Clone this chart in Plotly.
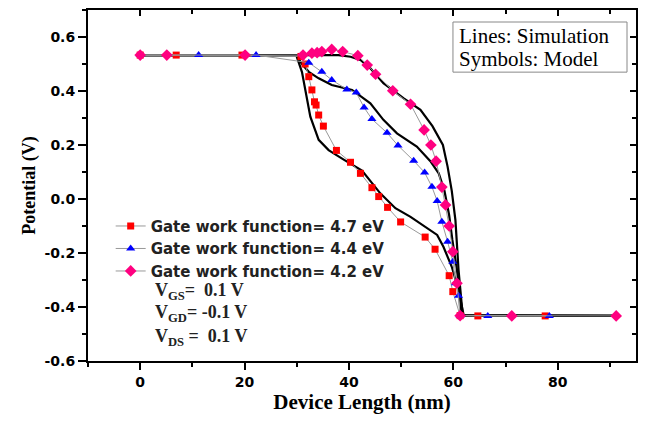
import plotly.graph_objects as go

# ---------------- data ----------------
# Simulation (black lines)
sim47_x = [0, 29.9, 31.0, 31.6, 32.6, 34.2, 36.1, 39.0, 42.5, 46.0, 48.9, 51.8, 55.0, 56.9, 58.1, 59.7, 61.0, 62.0, 91.2]
sim47_y = [0.533, 0.533, 0.47, 0.404, 0.305, 0.219, 0.181, 0.146, 0.105, 0.021, -0.034, -0.066, -0.109, -0.133, -0.177, -0.251, -0.337, -0.432, -0.433]

sim44_x = [0, 29.9, 31.0, 32.3, 34.2, 36.7, 40.6, 41.5, 44.1, 46.6, 49.2, 53.0, 55.6, 57.2, 58.3, 59.2, 59.8, 60.7, 61.6, 91.2]
sim44_y = [0.533, 0.533, 0.50, 0.471, 0.447, 0.422, 0.404, 0.392, 0.354, 0.293, 0.243, 0.194, 0.140, 0.095, 0.03, -0.06, -0.15, -0.263, -0.432, -0.433]

sim42_x = [0, 29.9, 35.0, 38.0, 40.3, 42.2, 44.1, 46.6, 50.5, 53.7, 56.0, 58.0, 58.9, 59.7, 60.4, 61.0, 61.8, 91.2]
sim42_y = [0.533, 0.533, 0.535, 0.533, 0.527, 0.515, 0.484, 0.429, 0.373, 0.330, 0.270, 0.20, 0.12, 0.03, -0.078, -0.263, -0.432, -0.433]

# Model (symbols)
mod47_x = [0, 6.9, 19.5, 30.8, 31.6, 32.3, 32.9, 33.4, 33.7, 34.2, 35.1, 37.6, 40.3, 42.2, 44.4, 45.7, 47.4, 49.9, 54.6, 56.5, 59.2, 59.9, 61.3, 64.7, 77.6]
mod47_y = [0.533, 0.533, 0.533, 0.528, 0.50, 0.453, 0.404, 0.360, 0.348, 0.311, 0.270, 0.180, 0.136, 0.095, 0.042, 0.009, -0.031, -0.085, -0.141, -0.186, -0.284, -0.343, -0.432, -0.433, -0.433]

mod44_x = [0, 11.2, 22.2, 32.3, 34.8, 36.7, 39.6, 41.4, 42.9, 44.4, 47.3, 49.4, 52.4, 54.5, 55.9, 56.9, 57.8, 58.9, 59.9, 60.4, 61.0, 61.3, 66.6, 78.4]
mod44_y = [0.533, 0.533, 0.533, 0.505, 0.471, 0.441, 0.406, 0.394, 0.339, 0.296, 0.245, 0.198, 0.142, 0.098, 0.045, -0.007, -0.084, -0.158, -0.232, -0.312, -0.358, -0.432, -0.433, -0.433]

mod42_x = [0, 5.1, 20.1, 31.2, 32.9, 33.9, 34.8, 36.7, 38.8, 41.7, 43.5, 45.1, 48.4, 51.8, 54.4, 55.7, 56.7, 57.8, 58.5, 59.2, 59.9, 60.7, 61.3, 71.2, 91.2]
mod42_y = [0.533, 0.533, 0.533, 0.533, 0.540, 0.542, 0.546, 0.554, 0.546, 0.531, 0.496, 0.462, 0.401, 0.351, 0.256, 0.200, 0.140, 0.044, -0.022, -0.100, -0.195, -0.312, -0.432, -0.433, -0.433]

legend_names = ["Gate work function= 4.7 eV", "Gate work function= 4.4 eV", "Gate work function= 4.2 eV"]
bias_labels = ["V<sub>GS</sub>=\u00a0\u00a00.1 V", "V<sub>GD</sub>= -0.1 V", "V<sub>DS</sub> =\u00a0\u00a00.1 V"]
box_lines = ["Lines: Simulation", "Symbols: Model"]
x_ticks = [0, 20, 40, 60, 80]
y_ticks = [-0.6, -0.4, -0.2, 0.0, 0.2, 0.4, 0.6]
y_ticktext = ["-0.6", "-0.4", "-0.2", "0.0", "0.2", "0.4", "0.6"]

# ---------------- figure ----------------
fig = go.Figure()

for sx, sy in [(sim47_x, sim47_y), (sim44_x, sim44_y), (sim42_x, sim42_y)]:
    fig.add_trace(go.Scatter(x=sx, y=sy, mode="lines",
                             line=dict(color="black", width=2.2),
                             showlegend=False, hoverinfo="skip"))

models = [
    (mod47_x, mod47_y, "#FF0000", "square", 7),
    (mod44_x, mod44_y, "#0000FF", "triangle-up", 8),
    (mod42_x, mod42_y, "#FF0080", "diamond", 9),
]
for (mx, my, col, sym, sz), name in zip(models, legend_names):
    fig.add_trace(go.Scatter(x=mx, y=my, mode="lines+markers", name=name,
                             line=dict(color="#999999", width=1),
                             marker=dict(color=col, symbol=sym, size=sz, line=dict(width=0))))

# empty trace to create mirrored (top/right) axes
fig.add_trace(go.Scatter(x=[None], y=[None], xaxis="x2", yaxis="y2",
                         showlegend=False, hoverinfo="skip"))

tickfont = dict(family="DejaVu Sans", size=14, color="black", weight="bold")
xr = [-10, 95]
yr = [-0.6, 0.7]

fig.update_layout(
    width=647, height=425,
    margin=dict(l=88, r=11, t=10, b=64),
    paper_bgcolor="white", plot_bgcolor="white",
    xaxis=dict(range=xr, tickvals=x_ticks, ticks="outside", ticklen=7, tickwidth=2,
               tickcolor="black", showline=True, linecolor="black", linewidth=2,
               showgrid=False, zeroline=False, tickfont=tickfont, automargin=False,
               minor=dict(dtick=10, tick0=0, ticks="outside", ticklen=4, tickwidth=2, tickcolor="black"),
               title=dict(text="Device Length (nm)", standoff=6,
                          font=dict(family="Liberation Serif", size=21, color="black", weight="bold"))),
    yaxis=dict(range=yr, tickvals=y_ticks, ticktext=y_ticktext, ticks="outside", ticklen=8, tickwidth=2,
               tickcolor="black", showline=True, linecolor="black", linewidth=2,
               showgrid=False, zeroline=False, tickfont=tickfont, automargin=False,
               minor=dict(dtick=0.1, tick0=0, ticks="outside", ticklen=4, tickwidth=2, tickcolor="black"),
               title=dict(text="Potential (V)", standoff=4,
                          font=dict(family="Liberation Serif", size=18, color="black", weight="bold"))),
    xaxis2=dict(range=xr, overlaying="x", side="top", anchor="y2", tickvals=x_ticks,
                ticks="inside", ticklen=6, tickwidth=2, tickcolor="black", automargin=False,
                showline=True, linecolor="black", linewidth=2, showgrid=False,
                zeroline=False, showticklabels=False,
                minor=dict(dtick=10, tick0=0, ticks="inside", ticklen=4, tickwidth=2, tickcolor="black")),
    yaxis2=dict(range=yr, overlaying="y", side="right", anchor="x2", tickvals=y_ticks,
                ticks="inside", ticklen=6, tickwidth=2, tickcolor="black", automargin=False,
                showline=True, linecolor="black", linewidth=2, showgrid=False,
                zeroline=False, showticklabels=False,
                minor=dict(dtick=0.1, tick0=0, ticks="inside", ticklen=4, tickwidth=2, tickcolor="black")),
    legend=dict(x=0.0414, y=0.431, xanchor="left", yanchor="top",
                bgcolor="rgba(0,0,0,0)", borderwidth=0,
                font=dict(family="DejaVu Sans", size=15, color="#222222", weight="bold"),
                tracegroupgap=0, itemwidth=30),
    showlegend=True,
)

for i, (t, yy) in enumerate(zip(bias_labels, [0.199, 0.135, 0.068])):
    fig.add_annotation(text=t, xref="paper", yref="paper", x=0.1186, y=yy,
                       xanchor="left", yanchor="middle", showarrow=False,
                       font=dict(family="Liberation Serif", size=18, color="#222222", weight="bold"))

# "Lines / Symbols" key box
fig.add_shape(type="rect", xref="paper", yref="paper", x0=0.666, x1=0.9836, y0=0.823, y1=0.9658,
              line=dict(color="#888888", width=1), fillcolor="white", layer="above")
for t, yy in zip(box_lines, [0.926, 0.86]):
    fig.add_annotation(text=t, xref="paper", yref="paper", x=0.675, y=yy,
                       xanchor="left", yanchor="middle", showarrow=False, borderpad=0,
                       font=dict(family="Liberation Serif", size=21, color="black"))

fig.write_html("out.html", config={"displayModeBar": False},
               post_script="document.body.style.margin='0px';")
